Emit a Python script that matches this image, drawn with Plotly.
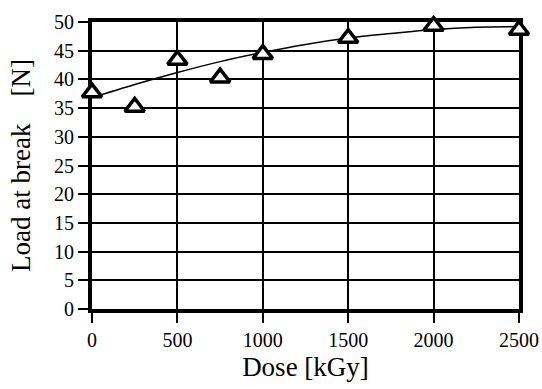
import plotly.graph_objects as go

# Measured data (Dose [kGy] vs Load at break [N])
dose = [0, 250, 500, 750, 1000, 1500, 2000, 2500]
load = [37.7, 35.2, 43.4, 40.3, 44.4, 47.2, 49.3, 48.6]

# Trend curve
fit_dose = [0, 250, 500, 750, 1000, 1250, 1500, 1750, 2000, 2250, 2500]
fit_load = [36.8, 39.1, 41.2, 43.1, 44.7, 46.1, 47.2, 48.0, 48.7, 49.1, 49.2]

x_ticks = [0, 500, 1000, 1500, 2000, 2500]
y_ticks = [0, 5, 10, 15, 20, 25, 30, 35, 40, 45, 50]

FONT = "Liberation Serif"

fig = go.Figure()
fig.add_trace(go.Scatter(
    x=fit_dose, y=fit_load, mode="lines",
    line=dict(color="black", width=1.5, shape="spline"),
    showlegend=False, hoverinfo="skip", cliponaxis=False,
))
fig.add_trace(go.Scatter(
    x=dose, y=load, mode="markers",
    marker=dict(symbol="triangle-up", size=17, color="white",
                line=dict(color="black", width=3.5)),
    showlegend=False, cliponaxis=False,
))

axis_common = dict(
    showline=True, linecolor="black", linewidth=4, mirror=True,
    showgrid=True, gridcolor="black", gridwidth=1.5,
    ticks="outside", ticklen=10, tickwidth=1.5, tickcolor="black",
    tickfont=dict(family=FONT, size=20, color="black"),
    zeroline=False, layer="below traces", automargin=False,
)

fig.update_layout(
    width=542, height=389,
    margin=dict(l=92, r=23, t=22, b=80),
    paper_bgcolor="white", plot_bgcolor="white",
    font=dict(family=FONT, color="black", size=20),
    xaxis=dict(
        range=[0, 2500], tickvals=x_ticks,
        title=dict(text="Dose [kGy]", font=dict(family=FONT, size=27, color="black"), standoff=8),
        **axis_common,
    ),
    yaxis=dict(
        range=[0, 50], tickvals=y_ticks,
        title=dict(text="Load at break\u00a0\u00a0\u00a0\u00a0[N]", font=dict(family=FONT, size=27, color="black"), standoff=17),
        **axis_common,
    ),
)

fig.write_html("out.html", config={"displayModeBar": False},
               post_script="document.body.style.margin='0';")
